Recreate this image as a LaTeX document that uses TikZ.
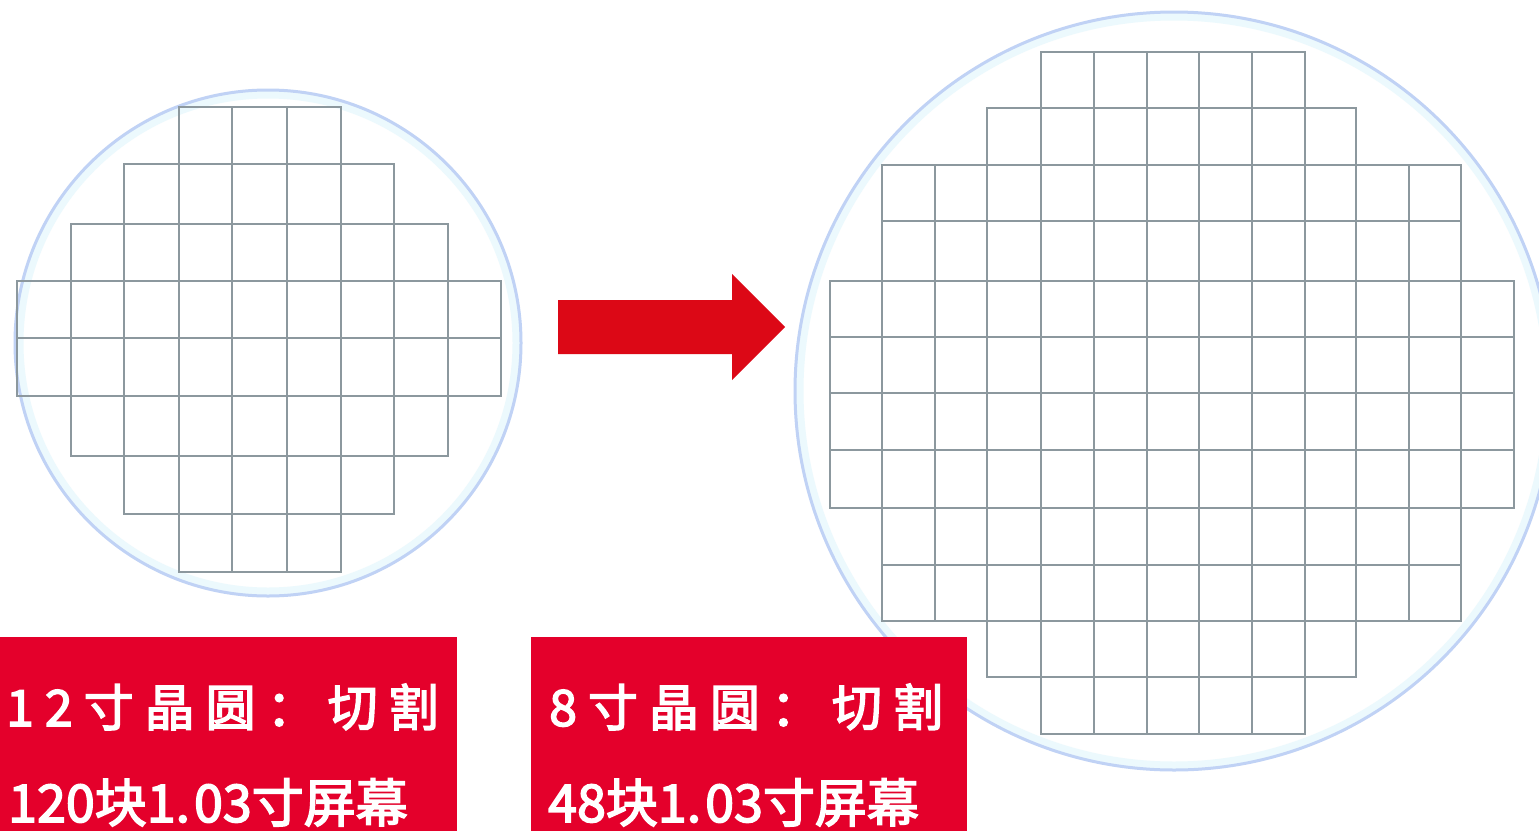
\documentclass[tikz,border=0pt]{standalone}
\usepackage{fontspec}
\newfontfamily\cjk{Noto Sans CJK SC}[FakeBold=3]
\definecolor{boxred}{RGB}{228,0,43}
\definecolor{arrowred}{RGB}{220,8,22}
\definecolor{gridgray}{RGB}{140,152,158}
\definecolor{ringblue}{RGB}{192,210,245}
\definecolor{glow}{RGB}{236,249,253}
\newcommand{\ls}{\hspace{11pt}}
\tikzset{
  wafer/.style={circle, draw=ringblue, line width=3pt, inner sep=0pt},
  waferglow/.style={circle, draw=glow, line width=8pt, inner sep=0pt},
  cell/.style={draw=gridgray, line width=2.3pt},
  redbox/.style={rectangle, fill=boxred, inner sep=0pt, anchor=north west},
  lineA/.style={text=white, inner sep=0pt, anchor=base west, font=\cjk\fontsize{50}{60}\selectfont},
  lineB/.style={text=white, inner sep=0pt, anchor=base west, font=\cjk\fontsize{52}{62}\selectfont},
}
\begin{document}
\begin{tikzpicture}[x=1pt,y=-1pt]
\useasboundingbox (0,0) rectangle (1539,830);
\fill[white] (0,0) rectangle (1539,830);
% wafers
\node[waferglow, minimum size=497pt] (glowL) at (268,343) {};
\node[wafer, minimum size=506pt] (waferL) at (268,343) {};
\node[waferglow, minimum size=749pt] (glowR) at (1174,391) {};
\node[wafer, minimum size=758pt] (waferR) at (1174,391) {};
% left grid
\foreach \r/\a/\b in {0/3/5, 1/2/6, 2/1/7, 3/0/8, 4/0/8, 5/1/7, 6/2/6, 7/3/5} {
  \foreach \i in {\a,...,\b} {
    \pgfmathsetmacro\xa{{17,71,124,179,232,287,341,394,448,501}[\i]}
    \pgfmathsetmacro\xb{{17,71,124,179,232,287,341,394,448,501}[\i+1]}
    \pgfmathsetmacro\ya{{107,164,224,281,338,396,456,514,572}[\r]}
    \pgfmathsetmacro\yb{{107,164,224,281,338,396,456,514,572}[\r+1]}
    \draw[cell] (\xa,\ya) rectangle (\xb,\yb);
  }
}
% right grid
\foreach \r/\a/\b in {0/4/8, 1/3/9, 2/1/11, 3/1/11, 4/0/12, 5/0/12, 6/0/12, 7/0/12, 8/1/11, 9/1/11, 10/3/9, 11/4/8} {
  \foreach \i in {\a,...,\b} {
    \pgfmathsetmacro\xa{{830,882,935,987,1041,1094,1147,1199,1252,1305,1356,1409,1461,1514}[\i]}
    \pgfmathsetmacro\xb{{830,882,935,987,1041,1094,1147,1199,1252,1305,1356,1409,1461,1514}[\i+1]}
    \pgfmathsetmacro\ya{{52,108,165,221,281,337,393,450,508,565,621,677,734}[\r]}
    \pgfmathsetmacro\yb{{52,108,165,221,281,337,393,450,508,565,621,677,734}[\r+1]}
    \draw[cell] (\xa,\ya) rectangle (\xb,\yb);
  }
}
% arrow
\fill[arrowred] (558,300) -- (732,300) -- (732,274) -- (785,327) -- (732,380) -- (732,354) -- (558,354) -- cycle;
% label boxes
\node[redbox, minimum width=457pt, minimum height=194pt] (boxL) at (0,637) {};
\node[redbox, minimum width=436pt, minimum height=194pt] (boxR) at (531,637) {};
\node[lineA] (tL1) at (6,726) {1\ls{}2\ls{}寸\ls{}晶\ls{}圆\ls{}：\ls{}切\ls{}割};
\node[lineB] (tL2) at (8,822) {120块1.\hspace{4pt}03寸屏幕};
\node[lineA] (tR1) at (549,726) {8\ls{}寸\ls{}晶\ls{}圆\ls{}：\ls{}切\ls{}割};
\node[lineB] (tR2) at (548,822) {48块1.\hspace{4pt}03寸屏幕};
\end{tikzpicture}
\end{document}
